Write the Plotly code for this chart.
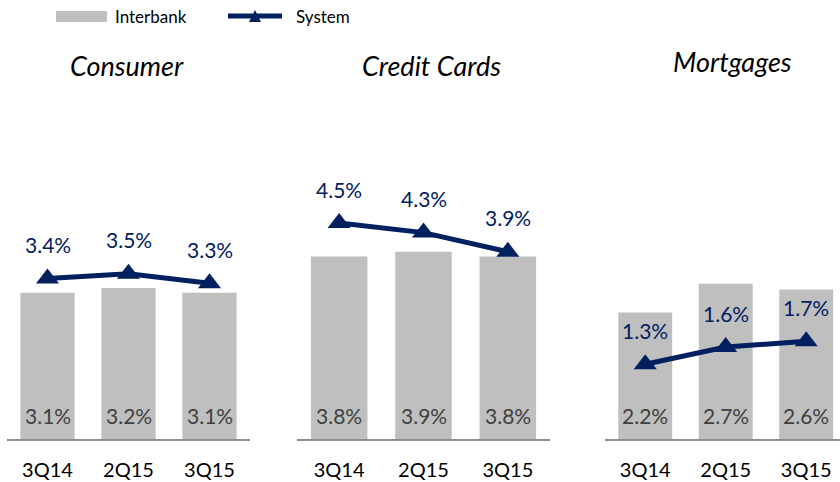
import plotly.graph_objects as go

periods = ["3Q14", "2Q15", "3Q15"]
panels = ["Consumer", "Credit Cards", "Mortgages"]
interbank = [[3.1, 3.2, 3.1], [3.8, 3.9, 3.8], [2.2, 2.7, 2.6]]
system = [[3.4, 3.5, 3.3], [4.5, 4.3, 3.9], [1.3, 1.6, 1.7]]
legend_names = ["Interbank", "System"]

W, H = 840, 482
mt, mb = 100, 43
ph = H - mt - mb

x_px = [(7, 250), (297, 550), (605, 840)]
x_ranges = [[-0.5, 2.5], [-0.5, 2.5], [-0.5, 2.42]]
y_scale = [47.2, 48.0, 57.5]  # px per unit
title_y_px = [65, 66, 62]
title_x_px = [127, 432, 732]

BAR = "#BFBFBF"
NAVY = "#002060"
FONT = "Lato, 'Open Sans', sans-serif"


def px_x(v):
    return v / W


def px_y(v):
    return (H - mb - v) / ph


fig = go.Figure()
layout = {}
annotations = []
for i in range(3):
    sfx = "" if i == 0 else str(i + 1)
    xa, ya = "x" + sfx, "y" + sfx
    fig.add_trace(go.Bar(
        x=periods, y=interbank[i], xaxis=xa, yaxis=ya,
        marker=dict(color=BAR, line=dict(width=0)), width=0.67,
        name=legend_names[0], showlegend=False, hoverinfo="skip"))
    fig.add_trace(go.Scatter(
        x=periods, y=system[i], xaxis=xa, yaxis=ya, mode="lines+markers",
        line=dict(color=NAVY, width=5),
        marker=dict(symbol="triangle-up", size=20, color=NAVY),
        name=legend_names[1], showlegend=False,
        cliponaxis=False, hoverinfo="skip"))
    for p, v in zip(periods, interbank[i]):
        annotations.append(dict(x=p, y=0, xref=xa, yref=ya, text=f"{v:.1f}%",
                                showarrow=False, yshift=24, yanchor="middle",
                                font=dict(color="#404040", size=21, family=FONT)))
    for p, v in zip(periods, system[i]):
        annotations.append(dict(x=p, y=v, xref=xa, yref=ya, text=f"{v:.1f}%",
                                showarrow=False, yshift=34, yanchor="middle",
                                font=dict(color=NAVY, size=21, family=FONT)))
    annotations.append(dict(x=px_x(title_x_px[i]), y=px_y(title_y_px[i]),
                            xref="paper", yref="paper", text=f"<i>{panels[i]}</i>",
                            showarrow=False, xanchor="center", yanchor="middle",
                            font=dict(color="#000000", size=27, family=FONT)))
    layout["xaxis" + sfx] = dict(
        domain=[x_px[i][0] / W, x_px[i][1] / W], range=x_ranges[i],
        anchor=ya, showline=True, linecolor="#8C8C8C", linewidth=1.5,
        showgrid=False, zeroline=False, ticks="", automargin=False,
        tickfont=dict(color="#000000", size=20, family=FONT), ticklabelstandoff=12)
    layout["yaxis" + sfx] = dict(
        domain=[0, 1], range=[0, ph / y_scale[i]], anchor=xa, automargin=False,
        visible=False, showgrid=False, zeroline=False)

# custom legend (wide swatches as in the reference)
shapes = [
    dict(type="rect", xref="paper", yref="paper", x0=px_x(56), x1=px_x(107),
         y0=px_y(22), y1=px_y(11), fillcolor=BAR, line=dict(width=0)),
    dict(type="line", xref="paper", yref="paper", x0=px_x(228), x1=px_x(282),
         y0=px_y(16), y1=px_y(16), line=dict(color=NAVY, width=5)),
    dict(type="path", xref="paper", yref="paper",
         path=f"M {px_x(249)} {px_y(22)} L {px_x(261)} {px_y(22)} L {px_x(255)} {px_y(10)} Z",
         fillcolor=NAVY, line=dict(width=0)),
]
annotations.append(dict(x=px_x(113), y=px_y(16), xref="paper", yref="paper",
                        text=legend_names[0], showarrow=False, xanchor="left",
                        yanchor="middle", font=dict(size=17, color="#000000", family=FONT)))
annotations.append(dict(x=px_x(294), y=px_y(16), xref="paper", yref="paper",
                        text=legend_names[1], showarrow=False, xanchor="left",
                        yanchor="middle", font=dict(size=17, color="#000000", family=FONT)))

fig.update_layout(
    width=W, height=H, margin=dict(l=0, r=0, t=mt, b=mb, autoexpand=False),
    paper_bgcolor="white", plot_bgcolor="rgba(0,0,0,0)",
    barmode="overlay", annotations=annotations, shapes=shapes,
    showlegend=False, font=dict(family=FONT),
    **layout)
fig.write_html("out.html", config={"displayModeBar": False},
               post_script="document.body.style.margin='0';document.body.style.overflow='hidden';")
